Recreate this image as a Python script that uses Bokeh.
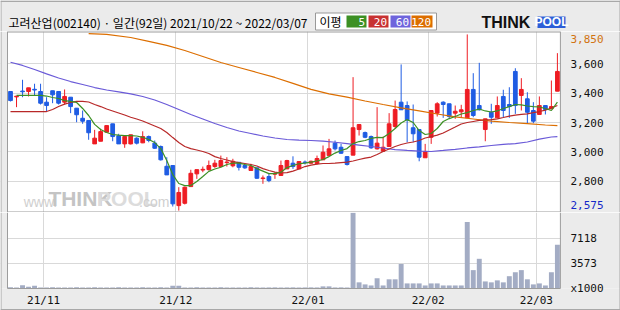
from bokeh.plotting import figure
from bokeh.models import Range1d, FixedTicker, Label
from bokeh.layouts import column
from bokeh.embed import file_html
from bokeh.resources import INLINE
from bokeh.core.properties import value

# ---------------- data ----------------
title_text = "고려산업(002140) · 일간(92일) 2021/10/22 ~ 2022/03/07"
month_ticks = [5.5, 27.5, 49.5, 69.5, 87.5]
month_labels = ["21/11", "21/12", "22/01", "22/02", "22/03"]
price_ticks = [2800, 3000, 3200, 3400, 3600]
price_max_label = "3,850"
price_min_label = "2,575"
vol_ticks = [0, 3573, 7118]
vol_labels = ["x1000", "3573", "7118"]

opens = [3412, 3375, 3415, 3412, 3427, 3412, 3339, 3417, 3412, 3339,
         3373, 3298, 3229, 3214, 3054, 3072, 3134, 3191, 3109, 3054,
         3054, 3093, 3061, 3104, 3059, 3036, 2901, 2906, 2632, 2648,
         2762, 2849, 2875, 2878, 2899, 2899, 2926, 2904, 2928, 2906,
         2872, 2890, 2817, 2831, 2847, 2838, 2883, 2922, 2883, 2930,
         2922, 2920, 2945, 2974, 3059, 3031, 2967, 2977, 3152, 3131,
         3104, 3020, 3004, 3036, 3173, 3339, 3316, 3164, 3152, 2959,
         3099, 3264, 3339, 3328, 3264, 3273, 3232, 3426, 3316, 3152,
         3270, 3232, 3378, 3323, 3549, 3385, 3362, 3282, 3255, 3316,
         3294, 3414]
closes = [3350, 3380, 3410, 3437, 3422, 3332, 3316, 3389, 3332, 3378,
          3309, 3253, 3209, 3130, 3093, 3138, 3179, 3104, 3054, 3104,
          3116, 3059, 3104, 3077, 3024, 2945, 2842, 2644, 2722, 2758,
          2853, 2878, 2880, 2906, 2922, 2940, 2930, 2935, 2894, 2890,
          2899, 2819, 2821, 2803, 2851, 2906, 2940, 2899, 2933, 2926,
          2935, 2954, 2997, 3020, 3020, 2990, 2913, 3164, 3186, 3099,
          3027, 3059, 3031, 3191, 3289, 3287, 3218, 3123, 2963, 3002,
          3282, 3328, 3323, 3241, 3277, 3287, 3426, 3248, 3287, 3225,
          3236, 3316, 3282, 3309, 3316, 3426, 3270, 3209, 3316, 3289,
          3309, 3549]
highs = [3412, 3380, 3492, 3437, 3465, 3465, 3373, 3417, 3412, 3426,
         3373, 3298, 3282, 3214, 3150, 3157, 3179, 3191, 3123, 3104,
         3116, 3099, 3140, 3111, 3077, 3043, 2963, 2906, 2758, 2762,
         2877, 2878, 2899, 2940, 2945, 2974, 2963, 2952, 2928, 2918,
         2918, 2890, 2838, 2849, 2860, 2940, 2945, 2969, 2933, 2940,
         2940, 2974, 3043, 3088, 3077, 3054, 2967, 3510, 3190, 3138,
         3111, 3305, 3104, 3264, 3350, 3597, 3344, 3323, 3152, 3054,
         3282, 3339, 3345, 3328, 3316, 3321, 3802, 3537, 3608, 3225,
         3328, 3378, 3424, 3441, 3571, 3503, 3407, 3339, 3378, 3316,
         3487, 3674]
lows = [3344, 3305, 3373, 3378, 3385, 3323, 3277, 3332, 3323, 3323,
        3264, 3202, 3191, 3082, 3054, 3072, 3134, 3072, 3054, 3027,
        3050, 3050, 3059, 3065, 3020, 2940, 2842, 2626, 2598, 2640,
        2762, 2815, 2860, 2872, 2890, 2899, 2899, 2894, 2872, 2883,
        2872, 2815, 2781, 2792, 2815, 2838, 2883, 2883, 2883, 2913,
        2918, 2913, 2945, 2974, 3009, 2986, 2906, 2977, 3111, 3093,
        3020, 3015, 3000, 3036, 3157, 3287, 3065, 3065, 2935, 2959,
        3054, 3241, 3232, 3225, 3225, 3232, 3232, 3236, 3282, 3072,
        3191, 3232, 3232, 3232, 3259, 3282, 3195, 3195, 3255, 3255,
        3294, 3414]
volumes = [160, 140, 450, 250, 400, 150, 140, 160, 150, 140,
           150, 160, 140, 150, 160, 150, 140, 150, 160, 140,
           150, 140, 160, 150, 140, 160, 150, 400, 400, 150,
           140, 160, 150, 140, 150, 160, 140, 150, 150, 140,
           160, 150, 140, 150, 160, 140, 150, 160, 140, 150,
           160, 150, 300, 300, 150, 160, 140, 10700, 870, 580,
           430, 1450, 430, 1300, 1300, 3470, 720, 720, 720, 430,
           720, 720, 430, 430, 430, 430, 9400, 2600, 4200, 1000,
           870, 1150, 870, 1740, 2300, 2600, 1300, 580, 720, 430,
           2300, 6200]

ma5_x = list(range(1, 92))
ma5_v = [3385, 3385, 3385, 3385, 3385, 3381, 3371, 3364, 3350, 3344,
         3337, 3296, 3248, 3187, 3152, 3132, 3118, 3114, 3111, 3111,
         3108, 3099, 3084, 3063, 3022, 2940, 2844, 2783, 2769, 2769,
         2797, 2831, 2866, 2882, 2894, 2913, 2922, 2922, 2913, 2906,
         2885, 2868, 2851, 2851, 2860, 2892, 2906, 2918, 2923, 2929,
         2937, 2947, 2967, 2991, 3009, 3022, 3056, 3070, 3077, 3091,
         3099, 3097, 3125, 3159, 3197, 3220, 3200, 3145, 3118, 3125,
         3159, 3207, 3227, 3241, 3258, 3268, 3282, 3292, 3279, 3272,
         3279, 3296, 3309, 3323, 3320, 3313, 3309, 3306, 3296, 3282,
         3339]
ma20_x = list(range(0, 92))
ma20_v = [3275, 3275, 3275, 3275, 3275, 3275, 3275, 3289, 3309, 3326,
          3337, 3344, 3344, 3340, 3323, 3309, 3292, 3279, 3265, 3251,
          3236, 3224, 3210, 3193, 3176, 3159, 3132, 3097, 3063, 3036,
          3022, 3012, 3002, 2988, 2967, 2954, 2944, 2933, 2926, 2920,
          2913, 2903, 2885, 2872, 2861, 2855, 2858, 2868, 2882, 2899,
          2909, 2916, 2920, 2920, 2922, 2926, 2929, 2937, 2947, 2957,
          2964, 2981, 3002, 3019, 3036, 3050, 3060, 3067, 3077, 3094,
          3104, 3114, 3128, 3149, 3169, 3190, 3200, 3207, 3214, 3217,
          3220, 3225, 3234, 3244, 3251, 3255, 3259, 3268, 3275, 3285,
          3299, 3316]
ma60_x = [0, 2, 4, 6, 8, 10, 12, 14, 16, 18, 20, 22, 24, 26, 28, 30, 32, 34,
          36, 38, 40, 42, 44, 46, 48, 50, 52, 54, 56, 58, 60, 62, 64, 66, 68,
          70, 72, 74, 76, 78, 80, 82, 84, 86, 88, 90, 91]
ma60_v = [3612, 3590, 3562, 3532, 3504, 3480, 3460, 3439, 3422, 3409, 3396,
          3378, 3354, 3323, 3289, 3255, 3224, 3193, 3166, 3142, 3125, 3108,
          3094, 3084, 3079, 3077, 3073, 3065, 3056, 3046, 3036, 3026, 3015,
          3009, 3004, 3002, 3009, 3017, 3026, 3034, 3043, 3050, 3056, 3067,
          3087, 3101, 3104]
ma120_x = [13, 16, 20, 23, 26, 29, 32, 35, 38, 41, 44, 47, 50, 53, 56, 59,
           62, 65, 68, 71, 74, 77, 80, 83, 86, 89, 91]
ma120_v = [3807, 3802, 3781, 3754, 3727, 3692, 3651, 3610, 3576, 3542, 3508,
           3467, 3426, 3396, 3374, 3347, 3323, 3300, 3279, 3258, 3238, 3224,
           3209, 3200, 3193, 3183, 3179]

# ---------------- styles ----------------
BG = "#ebebeb"
EDGE = "#a8a8a8"
FRAME = "#9c9c9c"
GRID = "#d9d9d9"
UP = "#ee1c23"
DOWN = "#1f5ce3"
C5, C20, C60, C120 = "#3c9024", "#b82828", "#6a5ad8", "#dc6e00"
VOLC = "#a3acc4"
MONO = "DejaVu Sans Mono"
KR = "Noto Sans CJK KR"
LBL = dict(text_font=value(MONO), text_font_size="11px", text_baseline="middle")

n = len(opens)
idx = list(range(n))
up_i = [i for i in idx if closes[i] >= opens[i]]
dn_i = [i for i in idx if closes[i] < opens[i]]

PX = 6.0                       # pixels per trading day
x_lo, x_hi = -0.5, n - 0.5     # plot area in day units
xr = Range1d(x_lo - 7 / PX, x_hi + 60 / PX)   # full canvas width 620 px
lab_x = x_hi + 10 / PX         # right-hand label column
NOB = dict(min_border=0, min_border_left=0, min_border_right=0,
           min_border_top=0, min_border_bottom=0)


def strip_right_left(fig, y0, y1):
    """grey page colour outside the plot area, left and right"""
    fig.quad(left=[xr.start, x_hi], right=[x_lo, xr.end], bottom=[y0, y0], top=[y1, y1],
             fill_color=BG, line_color=None)


# ---------------- header ----------------
head = figure(width=620, height=31, x_range=Range1d(0, 620), y_range=Range1d(31, 0),
              output_backend="svg", toolbar_location=None,
              x_axis_location=None, y_axis_location=None, **NOB)
head.grid.visible = False
head.outline_line_color = None
head.background_fill_color = BG
head.border_fill_color = BG
head.quad(left=[0], right=[620], top=[0], bottom=[1.5], fill_color=EDGE, line_color=None)
head.quad(left=[0, 619], right=[1, 620], top=[0, 0], bottom=[31, 31], fill_color=EDGE, line_color=None)
head.text(x=[8], y=[22], text=[title_text], text_font=value(KR), text_font_size="12px",
          text_baseline="middle", text_color="#000000")
head.quad(left=[315], right=[436], top=[12.5], bottom=[29.5], fill_color="white",
          line_color="#999999", line_width=1)
head.text(x=[319], y=[21], text=["이평"], text_font=value(KR), text_font_size="12px",
          text_baseline="middle", text_color="#000000")
lg_left = [346, 368, 390, 411]
lg_right = [366, 388, 410, 432]
lg_cols = [C5, "#c83232", "#6e64dc", "#dc6e00"]
lg_txt = ["5", "20", "60", "120"]
head.quad(left=lg_left, right=lg_right, top=[15] * 4, bottom=[27] * 4,
          fill_color=lg_cols, line_color=None)
head.text(x=[r - 1.5 for r in lg_right], y=[21.5] * 4, text=lg_txt, text_font=value(MONO),
          text_font_size="11px", text_align="right", text_baseline="middle", text_color="white")
head.text(x=[481], y=[21.5], text=["THINK"], text_font=value("Liberation Sans"),
          text_font_size="16px", text_font_style="bold", text_baseline="middle",
          text_color="#111111")
head.quad(left=[537], right=[565], top=[16], bottom=[27.5], fill_color="#2d5fd8", line_color=None)
head.text(x=[551], y=[21.8], text=["POOL"], text_font=value("Liberation Sans"),
          text_font_size="12px", text_font_style="bold", text_align="center",
          text_baseline="middle", text_color="white")

# ---------------- price ----------------
y_lo, y_hi = 2585, 3822
p = figure(width=620, height=181, x_range=xr, y_range=Range1d(y_lo, y_hi),
           output_backend="svg", toolbar_location=None,
           x_axis_location=None, y_axis_location=None, **NOB)
p.background_fill_color = "white"
p.border_fill_color = BG
p.outline_line_color = None
p.ygrid.ticker = FixedTicker(ticks=price_ticks)
p.xgrid.ticker = FixedTicker(ticks=month_ticks)
p.grid.grid_line_color = GRID
p.grid.grid_line_width = 1

wm = [("www.", 2.2, "14px", "normal", "#cfcfcf"), ("THINK", 6.3, "21px", "bold", "#c4c4c4"),
      ("POOL", 14.4, "21px", "bold", "#dcdcdc"), (".com", 21.4, "14px", "normal", "#cfcfcf")]
for t, xx, fs, st, col in wm:
    p.add_layout(Label(x=xx, y=2600, text=t, text_font_size=fs, text_font_style=st,
                       text_color=col, text_font="Liberation Sans", level="underlay"))

strip_right_left(p, y_lo, y_hi)
p.quad(left=[xr.start, xr.end - 1 / PX], right=[xr.start + 1 / PX, xr.end],
       bottom=[y_lo] * 2, top=[y_hi] * 2, fill_color=EDGE, line_color=None)
# plot-area frame
p.segment(x0=[x_lo, x_lo, x_hi], x1=[x_hi, x_lo, x_hi], y0=[y_hi, y_lo, y_lo],
          y1=[y_hi, y_hi, y_hi], line_color=FRAME, line_width=[2, 1, 1])
p.segment(x0=[x_lo], x1=[x_hi], y0=[y_lo], y1=[y_lo], line_color=FRAME, line_width=2)

p.segment(x0=up_i, x1=up_i, y0=[lows[i] for i in up_i],
          y1=[highs[i] for i in up_i], line_color=UP, line_width=1)
p.segment(x0=dn_i, x1=dn_i, y0=[lows[i] for i in dn_i],
          y1=[highs[i] for i in dn_i], line_color=DOWN, line_width=1)
p.vbar(x=up_i, width=0.62, bottom=[opens[i] for i in up_i], top=[closes[i] for i in up_i],
       fill_color=UP, line_color=UP, line_width=1)
p.vbar(x=dn_i, width=0.62, bottom=[closes[i] for i in dn_i], top=[opens[i] for i in dn_i],
       fill_color=DOWN, line_color=DOWN, line_width=1)

p.line(x=ma120_x, y=ma120_v, line_color=C120, line_width=1.2)
p.line(x=ma60_x, y=ma60_v, line_color=C60, line_width=1.2)
p.line(x=ma20_x, y=ma20_v, line_color=C20, line_width=1.2)
p.line(x=ma5_x, y=ma5_v, line_color=C5, line_width=1.2)

# right-hand price labels
p.text(x=[lab_x] * len(price_ticks), y=price_ticks, text=[f"{t:,}" for t in price_ticks],
       text_color="#111111", **LBL)
p.text(x=[lab_x], y=[y_hi - 7.5 * (y_hi - y_lo) / 181], text=[price_max_label],
       text_color="#d2730f", **LBL)
p.text(x=[lab_x], y=[y_lo + 7.5 * (y_hi - y_lo) / 181], text=[price_min_label],
       text_color="#1428c8", **LBL)

# ---------------- volume ----------------
v_hi = 10750
v_lo = -22 * v_hi / 76          # space below the bars for the month labels
v = figure(width=620, height=98, x_range=xr, y_range=Range1d(v_lo, v_hi),
           output_backend="svg", toolbar_location=None,
           x_axis_location=None, y_axis_location=None, **NOB)
v.background_fill_color = "white"
v.border_fill_color = BG
v.outline_line_color = None
v.ygrid.ticker = FixedTicker(ticks=vol_ticks[1:])
v.xgrid.ticker = FixedTicker(ticks=month_ticks)
v.grid.grid_line_color = GRID
v.vbar(x=idx, width=0.82, top=volumes, bottom=0, fill_color=VOLC, line_color=None)

strip_right_left(v, 0, v_hi)
v.quad(left=[xr.start], right=[xr.end], bottom=[v_lo], top=[0], fill_color=BG, line_color=None)
v.quad(left=[xr.start, xr.end - 1 / PX], right=[xr.start + 1 / PX, xr.end],
       bottom=[v_lo] * 2, top=[v_hi] * 2, fill_color=EDGE, line_color=None)
v.quad(left=[xr.start], right=[xr.end], bottom=[v_lo], top=[v_lo + 1.5 * v_hi / 76],
       fill_color=EDGE, line_color=None)
v.segment(x0=[x_lo, x_lo, x_hi], x1=[x_hi, x_lo, x_hi], y0=[0, 0, 0],
          y1=[0, v_hi, v_hi], line_color=FRAME, line_width=1)

v.text(x=[lab_x] * len(vol_ticks), y=vol_ticks, text=vol_labels, text_color="#111111", **LBL)
v.text(x=month_ticks, y=[-12 * v_hi / 76] * len(month_ticks), text=month_labels,
       text_color="#111111", text_align="center", **LBL)

layout = column(head, p, v, spacing=0)
open("out.html", "w").write(file_html(layout, INLINE))
